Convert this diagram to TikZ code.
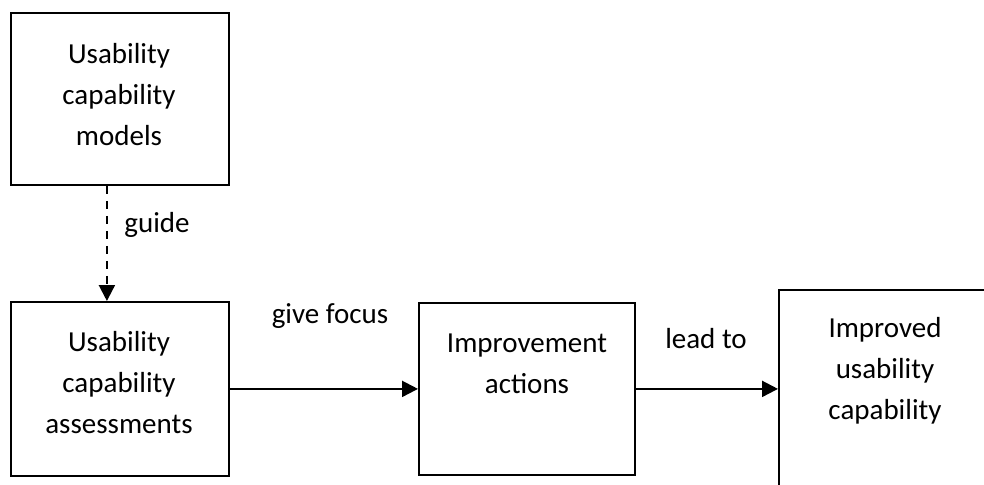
\documentclass[tikz,border=0pt]{standalone}
\usepackage{fontspec}
\setmainfont{Carlito}
\usetikzlibrary{arrows.meta}
\begin{document}
\begin{tikzpicture}[x=1pt,y=-1pt,
  box/.style={draw,line width=1.8pt,rectangle,inner sep=0pt,anchor=north west},
  txt/.style={align=center,font=\fontsize{29}{41}\selectfont,inner sep=0pt},
  lbl/.style={font=\fontsize{29}{41}\selectfont,inner sep=0pt,anchor=base},
  arr/.style={line width=2.2pt,-{Triangle[length=16pt,width=16pt]}}]
\useasboundingbox (0,0) rectangle (984,484);
\clip (0,0) rectangle (984,484);
\node[box,minimum width=218pt,minimum height=172pt] (b1) at (10,12) {};
\node[box,minimum width=218pt,minimum height=174pt] (b2) at (10,301) {};
\node[box,minimum width=216pt,minimum height=172pt] (b3) at (418,302) {};
\node[box,minimum width=230pt,minimum height=220pt] (b4) at (778,289) {};
\node[txt] (t1) at (119,94.5) {Usability\\capability\\models};
\node[txt] (t2) at (119,383) {Usability\\capability\\assessments};
\node[txt] (t3) at (527,363.5) {Improvement\\actions};
\node[txt] (t4) at (885,371) {Improved\\usability\\capability};
\node[lbl] (l1) at (157,232) {guide};
\node[lbl] (l2) at (330,323) {give focus};
\node[lbl] (l3) at (706,348) {lead to};
\draw[arr,dashed,dash pattern=on 8pt off 7pt] ([xshift=-13pt]b1.south) -- ([xshift=-13pt]b2.north);
\draw[arr] (b2.east) -- (b3.west);
\draw[arr] (b3.east) -- (b3.east -| b4.west);
\end{tikzpicture}
\end{document}
